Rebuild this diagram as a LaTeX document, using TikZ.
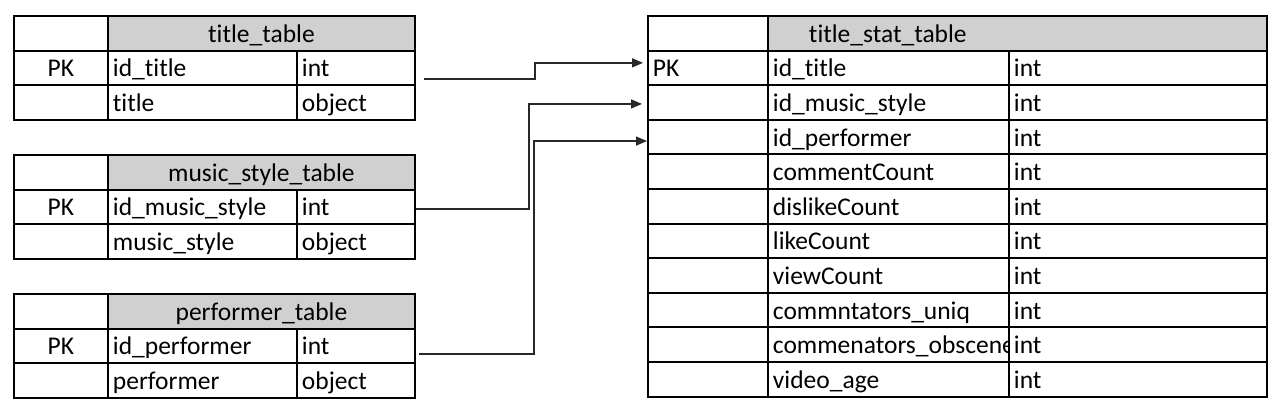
\documentclass[tikz,border=0pt]{standalone}
\usepackage{fontspec}
\setmainfont{Carlito}[Ligatures=NoCommon]
\usetikzlibrary{arrows.meta}
\definecolor{headgray}{RGB}{208,208,208}
\definecolor{linkgray}{RGB}{40,40,40}
\hyphenpenalty=10000
\newcommand{\tabfont}{\fontsize{25.5}{30}\selectfont}
\tikzset{
  cell/.style={draw, fill=white, line width=1.9pt, anchor=north west, minimum height=34.6pt,
    inner xsep=5pt, inner ysep=0pt, text height=21pt, text depth=3pt, font=\tabfont},
  keycol/.style={cell, text width=84pt, align=center},
  namecol/.style={cell, text width=179pt, align=left},
  typecol/.style={cell, text width=108pt, align=left},
  headcol/.style={cell, fill=headgray, text width=297pt, align=center},
  rkeycol/.style={cell, text width=110pt, align=left},
  rnamecol/.style={cell, text width=231pt, align=left},
  rtypecol/.style={cell, text width=248pt, align=left},
  rheadcol/.style={cell, fill=headgray, inner xsep=41pt, text width=417pt, align=left},
  link/.style={draw=linkgray, line width=1.3pt, -{Triangle[length=11pt,width=9pt]}}
}
\begin{document}
\begin{tikzpicture}[x=1pt,y=-1pt]
\useasboundingbox (0,0) rectangle (1280,410);
% dimension tables
\foreach \n/\y/\t/\f/\g in {tt/15/title\_table/id\_title/title,
    ms/154/music\_style\_table/id\_music\_style/music\_style,
    pf/293/performer\_table/id\_performer/performer}{
  \node[keycol] (\n-k0) at (13,\y) {};
  \node[headcol] (\n-h) at (107,\y) {\t};
  \node[keycol] (\n-k1) at (13,{\y+34.6}) {PK};
  \node[namecol] (\n-n1) at (107,{\y+34.6}) {\f};
  \node[typecol] (\n-t1) at (296,{\y+34.6}) {int};
  \node[keycol] (\n-k2) at (13,{\y+69.2}) {};
  \node[namecol] (\n-n2) at (107,{\y+69.2}) {\g};
  \node[typecol] (\n-t2) at (296,{\y+69.2}) {object};
}
% fact table
\node[rkeycol] (sk0) at (647,15) {};
\node[rheadcol] (sh) at (767,15) {title\_stat\_table};
\foreach \i/\k/\f in {1/PK/id\_title, 2//id\_music\_style, 3//id\_performer,
    4//commentCount, 5//dislikeCount, 6//likeCount, 7//viewCount,
    8//commntators\_uniq, 9//commenators\_obscene, 10//video\_age}{
  \node[rkeycol] (sk\i) at (647,{15+34.6*\i}) {\k};
  \node[rnamecol] (sn\i) at (767,{15+34.6*\i}) {\f};
  \node[rtypecol] (st\i) at (1008,{15+34.6*\i}) {int};
}
% links
\draw[link] ([xshift=8pt,yshift=-11pt]tt-t1.east) -- ++(111,0) |- ([xshift=-4pt,yshift=5pt]sk1.west);
\draw[link] ([yshift=-2pt]ms-t1.east) -- ++(113,0) |- ([xshift=-5pt,yshift=-1.5pt]sk2.west);
\draw[link] ([xshift=3pt,yshift=-8pt]pf-t1.east) -- ++(115,0) |- ([yshift=-4pt]sk3.west);
\end{tikzpicture}
\end{document}
